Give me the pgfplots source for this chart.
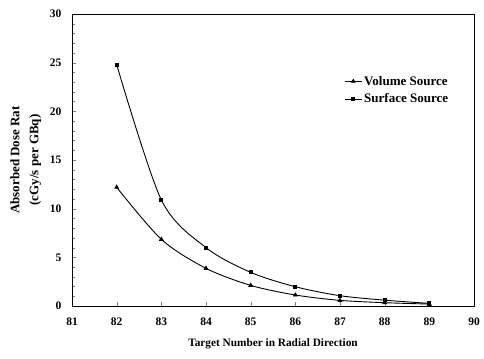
\documentclass[border=0pt]{standalone}
\usepackage{fontspec}
\setmainfont{Liberation Serif}
\usepackage{pgfplots}
\pgfplotsset{compat=1.18}
\begin{document}
\begin{tikzpicture}
\begin{axis}[
  name=ax,
  scale only axis,
  width=402pt, height=292pt,
  xmin=81, xmax=90, ymin=0, ymax=30,
  xtick={81,...,90}, ytick={0,5,...,30},
  minor y tick num=4,
  tick align=inside,
  major tick length=4pt, minor tick length=2.5pt,
  xtick pos=bottom, ytick pos=left,
  /pgf/number format/assume math mode=true,
  tick label style={font=\fontsize{11.5}{13}\selectfont\bfseries},
  yticklabel style={xshift=-7pt},
  xticklabel style={yshift=-8pt},
  xlabel style={font=\fontsize{11.3}{14}\selectfont\bfseries, yshift=-6pt},
  xlabel={Target Number in Radial Direction},
  ylabel={Absorbed Dose Rat\\(cGy/s per GBq)},
  ylabel style={align=center, font=\fontsize{13}{19}\selectfont\bfseries, yshift=2pt},
  legend style={draw=none, fill=none, at={(0.677,0.795)}, anchor=north west,
    font=\fontsize{13}{15}\selectfont\bfseries, row sep=3pt, inner sep=0pt},
  legend cell align=left,
  legend image post style={line width=0.8pt},
]
\addplot[black, line width=0.9pt, smooth, tension=0.5, mark=triangle*, mark size=2pt, mark options={solid,fill=black}] coordinates {
(82,12.2) (83,6.85) (84,3.87) (85,2.12) (86,1.13) (87,0.58) (88,0.34) (89,0.2)};
\addlegendentry{Volume Source}
\addplot[black, line width=0.9pt, smooth, tension=0.5, mark=square*, mark size=1.6pt, mark options={solid,fill=black}] coordinates {
(82,24.8) (83,10.9) (84,6.0) (85,3.46) (86,1.98) (87,1.06) (88,0.6) (89,0.27)};
\addlegendentry{Surface Source}
\end{axis}
\pgfresetboundingbox
\path ([xshift=-72pt,yshift=-52pt]ax.south west) rectangle ([xshift=10pt,yshift=14pt]ax.north east);
\end{tikzpicture}
\end{document}
